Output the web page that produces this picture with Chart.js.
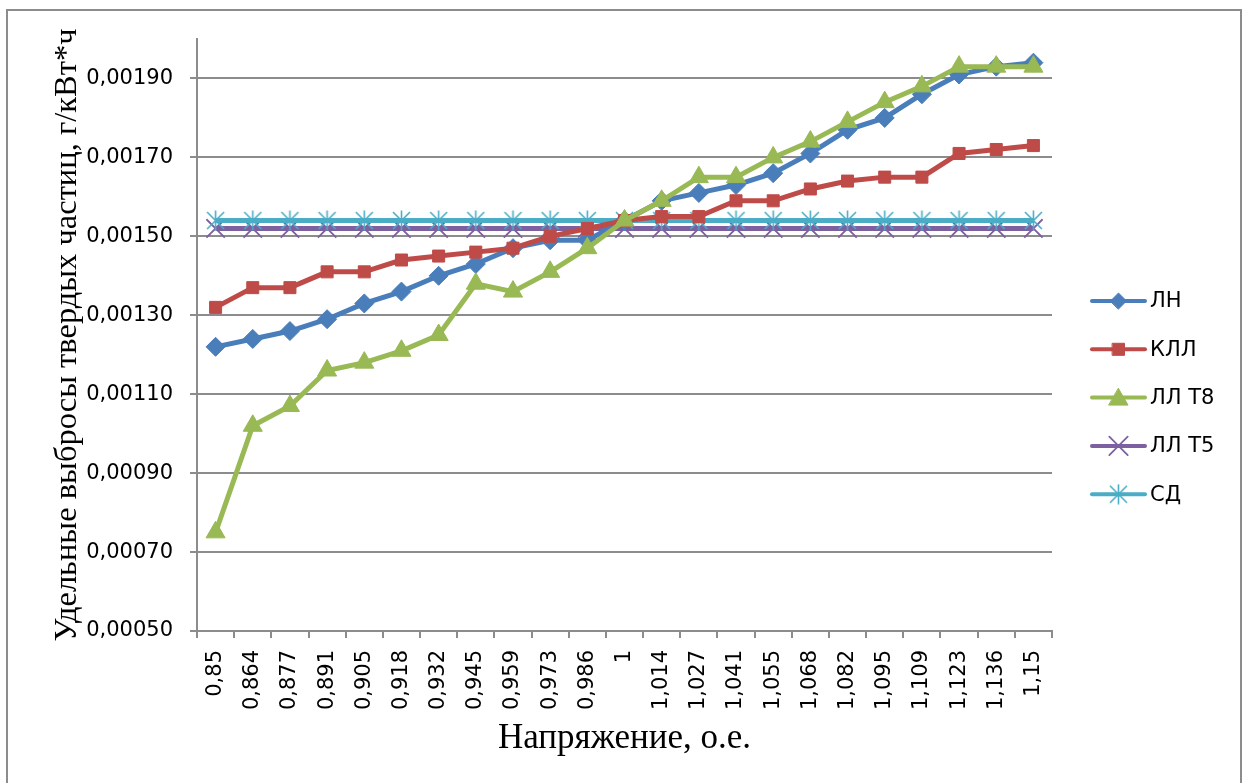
<!DOCTYPE html>
<html>
<head>
<meta charset="utf-8">
<script src="https://cdn.jsdelivr.net/npm/chart.js@4.4.1/dist/chart.umd.min.js"></script>
<style>
  html, body { margin: 0; padding: 0; background: #ffffff; }
  #wrap { width: 1242px; height: 783px; position: relative; }
</style>
</head>
<body>
<div id="wrap"><canvas id="c" width="1242" height="783"></canvas></div>
<script>
// Напряжение, о.е. (категории оси X)
const voltage = ['0,85', '0,864', '0,877', '0,891', '0,905', '0,918', '0,932', '0,945', '0,959', '0,973', '0,986',
  '1', '1,014', '1,027', '1,041', '1,055', '1,068', '1,082', '1,095', '1,109', '1,123', '1,136', '1,15'];

// Деления оси Y, г/кВт*ч
const yTicks = [0.0005, 0.0007, 0.0009, 0.0011, 0.0013, 0.0015, 0.0017, 0.0019];

const seriesNames = ['ЛН', 'КЛЛ', 'ЛЛ Т8', 'ЛЛ Т5', 'СД'];

// Удельные выбросы твердых частиц по типам ламп
const ln  = [0.00122, 0.00124, 0.00126, 0.00129, 0.00133, 0.00136, 0.00140, 0.00143, 0.00147, 0.00149, 0.00149,
  0.00154, 0.00159, 0.00161, 0.00163, 0.00166, 0.00171, 0.00177, 0.00180, 0.00186, 0.00191, 0.00193, 0.00194];
const kll = [0.00132, 0.00137, 0.00137, 0.00141, 0.00141, 0.00144, 0.00145, 0.00146, 0.00147, 0.00150, 0.00152,
  0.00154, 0.00155, 0.00155, 0.00159, 0.00159, 0.00162, 0.00164, 0.00165, 0.00165, 0.00171, 0.00172, 0.00173];
const llT8 = [0.00075, 0.00102, 0.00107, 0.00116, 0.00118, 0.00121, 0.00125, 0.00138, 0.00136, 0.00141, 0.00147,
  0.00154, 0.00159, 0.00165, 0.00165, 0.00170, 0.00174, 0.00179, 0.00184, 0.00188, 0.00193, 0.00193, 0.00193];
const llT5 = [0.00152, 0.00152, 0.00152, 0.00152, 0.00152, 0.00152, 0.00152, 0.00152, 0.00152, 0.00152, 0.00152,
  0.00152, 0.00152, 0.00152, 0.00152, 0.00152, 0.00152, 0.00152, 0.00152, 0.00152, 0.00152, 0.00152, 0.00152];
const sd = [0.00154, 0.00154, 0.00154, 0.00154, 0.00154, 0.00154, 0.00154, 0.00154, 0.00154, 0.00154, 0.00154,
  0.00154, 0.00154, 0.00154, 0.00154, 0.00154, 0.00154, 0.00154, 0.00154, 0.00154, 0.00154, 0.00154, 0.00154];

// Маркер "звездочка": вертикальная черта и косой крест
function asteriskMarker(size, color, lw) {
  const cv = document.createElement('canvas');
  cv.width = size; cv.height = size;
  const g = cv.getContext('2d');
  g.strokeStyle = color;
  g.lineWidth = lw;
  const c = size / 2, m = 2;
  g.beginPath();
  g.moveTo(c, 0.5); g.lineTo(c, size - 0.5);
  g.moveTo(m, m); g.lineTo(size - m, size - m);
  g.moveTo(size - m, m); g.lineTo(m, size - m);
  g.stroke();
  return cv;
}

const GRID = '#8c8c8c';
const starMark = asteriskMarker(21, '#4bacc6', 1.6);

function lineSet(label, data, color, style, radius, order, extra) {
  return Object.assign({
    label: label,
    data: data,
    borderColor: color,
    backgroundColor: color,
    borderWidth: 5,
    tension: 0,
    pointStyle: style,
    pointRadius: radius,
    pointHoverRadius: radius,
    pointBackgroundColor: color,
    pointBorderColor: color,
    pointBorderWidth: 1,
    order: order
  }, extra || {});
}

// Рамка области диаграммы и белый фон
const framePlugin = {
  id: 'frame',
  beforeDraw(chart) {
    const ctx = chart.ctx;
    ctx.save();
    ctx.fillStyle = '#ffffff';
    ctx.fillRect(0, 0, chart.width, chart.height);
    ctx.strokeStyle = '#8c8c8c';
    ctx.lineWidth = 2;
    ctx.strokeRect(7, 10, 1234, 790);
    ctx.restore();
  }
};

// Легенда справа: линия серии с маркером и подпись
const sideLegend = {
  id: 'sideLegend',
  afterDraw(chart) {
    const ctx = chart.ctx;
    const area = chart.chartArea;
    const x0 = area.right + 40, x1 = area.right + 93, tx = area.right + 98;
    const top = 301, step = 48.3;
    chart.data.datasets.forEach((ds, i) => {
      const y = top + i * step;
      ctx.save();
      ctx.strokeStyle = ds.borderColor;
      ctx.lineWidth = 4;
      ctx.lineCap = 'round';
      ctx.beginPath();
      ctx.moveTo(x0, y);
      ctx.lineTo(x1, y);
      ctx.stroke();
      ctx.fillStyle = ds.pointBackgroundColor;
      ctx.strokeStyle = ds.pointBorderColor;
      ctx.lineWidth = ds.pointBorderWidth;
      Chart.helpers.drawPoint(ctx, {
        pointStyle: ds.pointStyle,
        radius: ds.pointStyle === 'rectRot' ? 8 : ds.pointRadius,
        borderWidth: ds.pointBorderWidth,
        rotation: 0
      }, (x0 + x1) / 2, ds.pointStyle === 'triangle' ? y + 2 : y);
      ctx.fillStyle = '#000000';
      ctx.font = '21px "DejaVu Sans"';
      ctx.textAlign = 'left';
      ctx.textBaseline = 'middle';
      ctx.fillText(ds.label, tx, y + 1);
      ctx.restore();
    });
  }
};

new Chart(document.getElementById('c'), {
  type: 'line',
  data: {
    labels: voltage,
    datasets: [
      lineSet(seriesNames[0], ln, '#4a7ebb', 'rectRot', 9.5, 2),
      lineSet(seriesNames[1], kll, '#be4b48', 'rect', 8.5, 1),
      lineSet(seriesNames[2], llT8, '#98b954', 'triangle', 11, 0),
      lineSet(seriesNames[3], llT5, '#7d60a0', 'crossRot', 13, 4, { pointBorderWidth: 1.8 }),
      lineSet(seriesNames[4], sd, '#4bacc6', starMark, 11, 3)
    ]
  },
  options: {
    responsive: false,
    animation: false,
    devicePixelRatio: 1,
    layout: { padding: { left: 0, right: 190, top: 39, bottom: 0 } },
    plugins: {
      legend: { display: false },
      tooltip: { enabled: false }
    },
    scales: {
      x: {
        type: 'category',
        offset: true,
        grid: {
          offset: true,
          drawOnChartArea: false,
          drawTicks: true,
          tickLength: 7,
          color: GRID,
          lineWidth: 2
        },
        border: { display: true, color: GRID, width: 2 },
        ticks: {
          autoSkip: false,
          minRotation: 90,
          maxRotation: 90,
          padding: 12,
          color: '#000000',
          font: { family: 'DejaVu Sans', size: 21 }
        },
        title: {
          display: true,
          text: 'Напряжение, о.е.',
          color: '#000000',
          font: { family: 'Liberation Serif', size: 35 },
          padding: { top: 0, bottom: 23 }
        },
        afterFit(scale) { scale.height = 152; }
      },
      y: {
        min: 0.0005,
        max: 0.002,
        grid: {
          color: GRID,
          lineWidth: 2,
          drawTicks: true,
          tickLength: 7
        },
        border: { display: true, color: GRID, width: 2 },
        ticks: {
          padding: 17,
          color: '#000000',
          font: { family: 'DejaVu Sans', size: 21 },
          callback: v => v.toFixed(5).replace('.', ',')
        },
        afterBuildTicks(scale) {
          scale.ticks = yTicks.map(v => ({ value: v }));
        },
        title: {
          display: true,
          text: 'Удельные выбросы твердых частиц, г/кВт*ч',
          color: '#000000',
          font: { family: 'Liberation Serif', size: 32.5 },
          padding: { top: 48, bottom: 0 }
        },
        afterFit(scale) { scale.width = 197; }
      }
    }
  },
  plugins: [framePlugin, sideLegend]
});
</script>
</body>
</html>
